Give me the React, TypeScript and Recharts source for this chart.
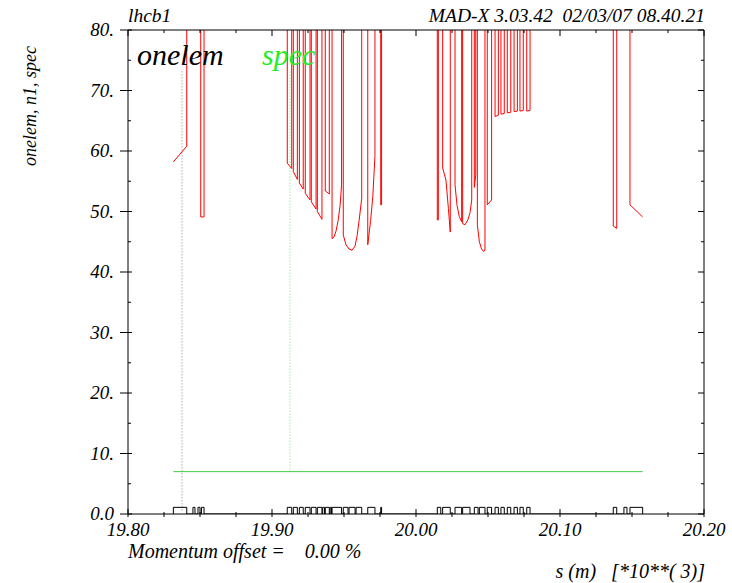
import React from 'react';
import { LineChart, Line, XAxis, YAxis } from 'recharts';

const FONT = "'Liberation Serif', 'DejaVu Serif', serif";
const HIGH = 150;

// axis ticks
const xTicks = [19.8, 19.825, 19.85, 19.875, 19.9, 19.925, 19.95, 19.975, 20.0, 20.025, 20.05, 20.075, 20.1, 20.125, 20.15, 20.175, 20.2];
const xMajor = [19.8, 19.9, 20.0, 20.1, 20.2];
const xMajorLabels = ['19.80', '19.90', '20.00', '20.10', '20.20'];
const yTicks = [0, 5, 10, 15, 20, 25, 30, 35, 40, 45, 50, 55, 60, 65, 70, 75, 80];
const yMajor = [0, 10, 20, 30, 40, 50, 60, 70, 80];
const yMajorLabels = ['0.0', '10.', '20.', '30.', '40.', '50.', '60.', '70.', '80.'];

// n1 aperture: opening segment, valleys (dips below the 80 ceiling), closing segment
const n1Start: [number, number][] = [[19.8315, 58.2], [19.8408, 60.8]];
const n1Valleys: [number, number][][] = [
  [[19.8505, 49.1], [19.8528, 49.1]],
  [[19.9106, 58.0], [19.9137, 57.1]],
  [[19.9148, 56.6], [19.9176, 55.3]],
  [[19.9190, 54.7], [19.9217, 53.7]],
  [[19.9231, 53.0], [19.9264, 51.9]],
  [[19.9273, 51.6], [19.9306, 50.4]],
  [[19.9315, 50.0], [19.9347, 48.7]],
  [[19.9370, 53.4], [19.9398, 52.9]],
  [[19.9417, 45.5], [19.9431, 45.8], [19.9445, 46.8], [19.9459, 48.5], [19.9473, 51.0], [19.9483, 54.4]],
  [[19.9495, 46.1], [19.9514, 44.5], [19.9535, 43.8], [19.9556, 43.6], [19.9577, 44.3], [19.9591, 46.0], [19.9605, 48.5], [19.9623, 52.2]],
  [[19.9665, 44.5], [19.9685, 48.5], [19.9700, 52.5], [19.9715, 59.1]],
  [[19.9755, 51.1], [19.9761, 51.1]],
  [[20.0148, 48.6], [20.0155, 48.6]],
  [[20.0185, 57.2], [20.0208, 55.2], [20.0225, 50.5], [20.0238, 46.6]],
  [[20.0271, 54.4], [20.0285, 51.0], [20.0300, 49.2], [20.0317, 48.3]],
  [[20.0324, 48.0], [20.0340, 47.8], [20.0360, 48.6], [20.0375, 49.8], [20.0387, 51.9]],
  [[20.0405, 54.0], [20.0415, 56.0]],
  [[20.0426, 47.8], [20.0440, 45.0], [20.0455, 43.8], [20.0469, 43.4], [20.0479, 43.6]],
  [[20.0495, 51.1], [20.0525, 51.9]],
  [[20.0549, 65.7], [20.0572, 65.9]],
  [[20.0590, 66.1], [20.0613, 66.2]],
  [[20.0634, 66.3], [20.0658, 66.4]],
  [[20.0681, 66.5], [20.0704, 66.6]],
  [[20.0722, 66.6], [20.0745, 66.7]],
  [[20.0769, 66.6], [20.0792, 66.7]],
  [[20.1370, 47.6], [20.1394, 47.2]],
];
const n1End: [number, number][] = [[20.1486, 51.1], [20.1574, 49.1]];

// machine elements drawn as boxes on the baseline [start, end]
const elements: [number, number][] = [
  [19.8315, 19.8408], [19.8451, 19.8465], [19.8486, 19.8500], [19.8510, 19.8528],
  [19.9106, 19.9137], [19.9148, 19.9176], [19.9190, 19.9217], [19.9231, 19.9264],
  [19.9273, 19.9306], [19.9315, 19.9347], [19.9352, 19.9365], [19.9370, 19.9398],
  [19.9404, 19.9413], [19.9417, 19.9483], [19.9495, 19.9528], [19.9535, 19.9577],
  [19.9584, 19.9623], [19.9665, 19.9715], [19.9755, 19.9761],
  [20.0148, 20.0172], [20.0185, 20.0238], [20.0271, 20.0317], [20.0324, 20.0375],
  [20.0405, 20.0431], [20.0440, 20.0479], [20.0495, 20.0525], [20.0549, 20.0572],
  [20.0590, 20.0613], [20.0634, 20.0658], [20.0681, 20.0704], [20.0722, 20.0745],
  [20.0769, 20.0792],
  [20.1370, 20.1394], [20.1444, 20.1465], [20.1486, 20.1574],
];
const elementHeight = 1.1;

const specLevel = 7;
const specRange = [19.8315, 20.1574];
const specMarker = 19.9125;
const onelemMarker = 19.8375;
const markerTop = 73.5;

// build series
const n1Data: { s: number; v: number }[] = [];
n1Start.forEach(([s, v]) => n1Data.push({ s, v }));
n1Data.push({ s: n1Start[n1Start.length - 1][0], v: HIGH });
n1Valleys.forEach((pts) => {
  n1Data.push({ s: pts[0][0], v: HIGH });
  pts.forEach(([s, v]) => n1Data.push({ s, v }));
  n1Data.push({ s: pts[pts.length - 1][0], v: HIGH });
});
n1Data.push({ s: n1End[0][0], v: HIGH });
n1End.forEach(([s, v]) => n1Data.push({ s, v }));

const elemData: { s: number; v: number }[] = [];
elements.forEach(([a, b]) => {
  elemData.push({ s: a, v: 0 }, { s: a, v: elementHeight }, { s: b, v: elementHeight }, { s: b, v: 0 });
});

const specData = [{ s: specRange[0], v: specLevel }, { s: specRange[1], v: specLevel }];
const specMarkerData = [{ s: specMarker, v: specLevel }, { s: specMarker, v: markerTop }];
const onelemMarkerData = [{ s: onelemMarker, v: 0.6 }, { s: onelemMarker, v: markerTop }];

const isMajor = (val: number, list: number[]) => list.findIndex((m) => Math.abs(m - val) < 1e-6);

const BottomTick = (props: any) => {
  const { x, y, payload } = props;
  const i = isMajor(payload.value, xMajor);
  return (
    <g>
      <line x1={x} x2={x} y1={y - (i >= 0 ? 5 : 2)} y2={y + 3} stroke="#000" strokeWidth={1} />
      {i >= 0 && (
        <text x={x} y={y + 22} textAnchor="middle" fontFamily={FONT} fontStyle="italic" fontSize={19} fill="#000">
          {xMajorLabels[i]}
        </text>
      )}
    </g>
  );
};

const TopTick = (props: any) => {
  const { x, y, payload } = props;
  const i = isMajor(payload.value, xMajor);
  return <line x1={x} x2={x} y1={y} y2={y + (i >= 0 ? 6 : 3)} stroke="#000" strokeWidth={1} />;
};

const LeftTick = (props: any) => {
  const { x, y, payload } = props;
  const i = isMajor(payload.value, yMajor);
  return (
    <g>
      <line x1={x - (i >= 0 ? 8 : 0)} x2={x + (i >= 0 ? 4 : 3)} y1={y} y2={y} stroke="#000" strokeWidth={1} />
      {i >= 0 && (
        <text x={x - 14} y={y + 6} textAnchor="end" fontFamily={FONT} fontStyle="italic" fontSize={19} fill="#000">
          {yMajorLabels[i]}
        </text>
      )}
    </g>
  );
};

const RightTick = (props: any) => {
  const { x, y, payload } = props;
  const i = isMajor(payload.value, yMajor);
  return <line x1={x - (i >= 0 ? 6 : 3)} x2={x} y1={y} y2={y} stroke="#000" strokeWidth={1} />;
};

export default function App() {
  const textStyle = { fontFamily: FONT, fontStyle: 'italic' as const, whiteSpace: 'pre' as const };
  return (
    <div style={{ position: 'absolute', left: 0, top: 0, width: 732, height: 583, background: '#fff' }}>
      <LineChart width={732} height={583} margin={{ top: 29, right: 27, bottom: 68, left: 127 }}>
        <XAxis
          xAxisId="b"
          dataKey="s"
          type="number"
          domain={[19.8, 20.2]}
          allowDataOverflow
          ticks={xTicks}
          interval={0}
          height={1}
          tickSize={0}
          tickMargin={0}
          tickLine={false}
          axisLine={{ stroke: '#000' }}
          tick={<BottomTick />}
        />
        <XAxis
          xAxisId="t"
          orientation="top"
          dataKey="s"
          type="number"
          domain={[19.8, 20.2]}
          allowDataOverflow
          ticks={xTicks}
          interval={0}
          height={1}
          tickSize={0}
          tickMargin={0}
          tickLine={false}
          axisLine={{ stroke: '#000' }}
          tick={<TopTick />}
        />
        <YAxis
          yAxisId="l"
          type="number"
          domain={[0, 80]}
          allowDataOverflow
          ticks={yTicks}
          interval={0}
          width={1}
          tickSize={0}
          tickMargin={0}
          tickLine={false}
          axisLine={{ stroke: '#000' }}
          tick={<LeftTick />}
        />
        <YAxis
          yAxisId="r"
          orientation="right"
          type="number"
          domain={[0, 80]}
          allowDataOverflow
          ticks={yTicks}
          interval={0}
          width={1}
          tickSize={0}
          tickMargin={0}
          tickLine={false}
          axisLine={{ stroke: '#000' }}
          tick={<RightTick />}
        />
        <Line xAxisId="b" yAxisId="l" data={onelemMarkerData} dataKey="v" type="linear" stroke="#8a8a8a" strokeWidth={1} strokeDasharray="1 2" dot={false} isAnimationActive={false} />
        <Line xAxisId="b" yAxisId="l" data={specMarkerData} dataKey="v" type="linear" stroke="#66ee66" strokeWidth={1} strokeDasharray="1 2" dot={false} isAnimationActive={false} />
        <Line xAxisId="b" yAxisId="l" data={specData} dataKey="v" type="linear" stroke="#3fcc3f" strokeWidth={1} dot={false} isAnimationActive={false} />
        <Line xAxisId="b" yAxisId="l" data={elemData} dataKey="v" type="linear" stroke="#000" strokeWidth={1} dot={false} isAnimationActive={false} />
        <Line xAxisId="b" yAxisId="l" data={n1Data} dataKey="v" type="linear" stroke="#ff0000" strokeWidth={1} dot={false} isAnimationActive={false} />
      </LineChart>
      <svg width={732} height={583} style={{ position: 'absolute', left: 0, top: 0, pointerEvents: 'none' }}>
        <text x={128} y={22} fontSize={19.5} fill="#000" style={textStyle}>lhcb1</text>
        <text x={705} y={22} fontSize={19.5} fill="#000" textAnchor="end" style={textStyle}>{'MAD-X 3.03.42  02/03/07 08.40.21'}</text>
        <text x={137} y={65} fontSize={30} fill="#000" style={textStyle}>onelem</text>
        <text x={262} y={65} fontSize={30} fill="#22ee22" style={textStyle}>spec</text>
        <text x={36} y={106} fontSize={18} fill="#000" textAnchor="middle" transform="rotate(-90 36 106)" style={textStyle}>onelem, n1, spec</text>
        <text x={128} y={558} fontSize={20} fill="#000" style={textStyle}>{'Momentum offset =    0.00 %'}</text>
        <text x={705} y={578} fontSize={20} fill="#000" textAnchor="end" style={textStyle}>{'s (m)   [*10**( 3)]'}</text>
      </svg>
    </div>
  );
}
